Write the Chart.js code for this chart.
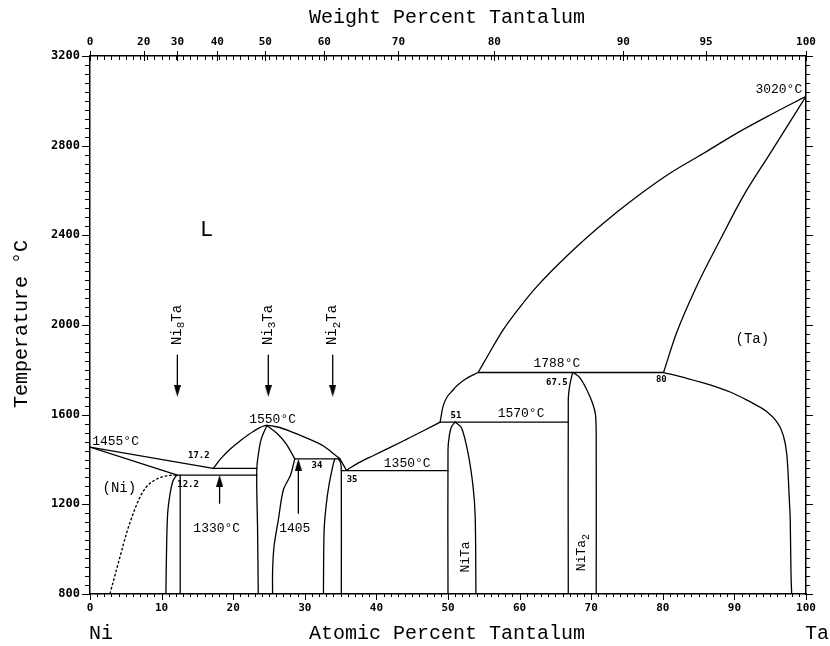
<!DOCTYPE html>
<html>
<head>
<meta charset="utf-8">
<script src="https://cdn.jsdelivr.net/npm/chart.js@4.4.1/dist/chart.umd.min.js"></script>
<style>
  html, body { margin: 0; padding: 0; background: #fff; }
  #wrap { width: 830px; height: 646px; }
</style>
</head>
<body>
<div id="wrap"><canvas id="chart"></canvas></div>
<script>
// tick labels
const atomicTicks = [0, 10, 20, 30, 40, 50, 60, 70, 80, 90, 100];
const weightTicks = [0, 20, 30, 40, 50, 60, 70, 80, 90, 95, 100];
const tempTicks = [800, 1200, 1600, 2000, 2400, 2800, 3200];

// phase boundaries, points are [at.% Ta, temperature °C]
const niLiquidus = [[0, 1455], [17.2, 1360]];
const niSolidus = [[0, 1455], [12.2, 1330]];
const niSolvus = [[2.8, 803], [4.2, 967], [5.1, 1071], [6.05, 1160], [7.0, 1234], [7.9, 1279], [9.1, 1309], [10.7, 1327], [12.2, 1331]];
const eutectic1360 = [[17.2, 1360], [23.3, 1360]];
const line1330 = [[12.2, 1330], [23.3, 1330]];
const ni8TaLeft = [[10.6, 800], [10.7, 1012], [10.85, 1160], [11.2, 1250], [11.6, 1305], [12.1, 1330]];
const ni8TaRight = [[12.6, 800], [12.6, 1330]];
const domeLiquidus = [[17.2, 1360], [18.3, 1405], [19.6, 1447], [21.0, 1484], [22.8, 1525], [24.7, 1552], [26.2, 1545], [27.9, 1527], [30.3, 1495], [32.6, 1460], [34.4, 1416], [34.9, 1403]];
const ni3TaLeft = [[23.5, 800], [23.4, 1100], [23.3, 1250], [23.3, 1360], [23.5, 1420], [23.9, 1490], [24.7, 1552]];
const ni3TaRightUpper = [[24.7, 1552], [26.1, 1517], [27.4, 1470], [28.6, 1403]];
const ni3TaRightLower = [[28.6, 1403], [28.0, 1330], [27.0, 1264], [26.3, 1130], [25.7, 1012], [25.5, 900], [25.5, 800]];
const peritectic1405 = [[28.6, 1403], [34.8, 1403]];
const ni2TaLeft = [[32.6, 800], [32.7, 1086], [33.0, 1200], [33.4, 1290], [34.0, 1383], [34.2, 1403]];
const ni2TaRight = [[34.7, 1403], [35.0, 1385], [35.1, 1350], [35.1, 800]];
const eutecticDip = [[34.9, 1403], [35.4, 1375], [35.8, 1352]];
const niTaLiquidus = [[35.8, 1352], [37.5, 1385], [39.6, 1418], [42.0, 1455], [44.2, 1490], [46.5, 1527], [48.9, 1567]];
const eutectic1350 = [[35.1, 1350], [50.0, 1350]];
const peritectic1570 = [[48.9, 1567], [66.8, 1567]];
const niTaLeft = [[50.0, 800], [50.0, 1443], [50.2, 1510], [50.5, 1547], [51.0, 1567]];
const niTaRight = [[51.0, 1567], [51.9, 1540], [52.8, 1428], [53.5, 1279], [53.8, 1145], [53.9, 800]];
const niTa2Liquidus = [[48.9, 1567], [49.3, 1636], [50.7, 1710], [52.6, 1762], [54.2, 1788]];
const taLiquidus = [[54.2, 1788], [55.0, 1832], [57.7, 1978], [60.1, 2082], [62.4, 2171], [67.0, 2320], [71.7, 2454], [76.4, 2573], [81.0, 2677], [85.7, 2766], [90.3, 2855], [95.0, 2937], [100, 3020]];
const peritectic1788 = [[54.2, 1788], [80.1, 1788]];
const niTa2Left = [[66.8, 800], [66.8, 1666], [67.0, 1730], [67.4, 1788]];
const niTa2Right = [[67.5, 1788], [68.4, 1765], [69.4, 1710], [70.2, 1650], [70.6, 1600], [70.7, 1500], [70.7, 800]];
const taSolidus = [[80.1, 1788], [81.9, 1963], [84.7, 2171], [88.0, 2379], [91.2, 2573], [95.0, 2766], [100, 3020]];
const taSolvus = [[80.1, 1788], [83.0, 1765], [86.6, 1733], [89.5, 1700], [91.7, 1666], [93.6, 1633], [94.5, 1614], [95.9, 1569], [96.8, 1510], [97.3, 1428], [97.5, 1339], [97.7, 1200], [97.8, 1130], [97.9, 900], [98.0, 800]];

// arrows: shaft from first to second point, head at the second
const arrowNi8Ta = [[12.2, 1866], [12.2, 1706]];
const arrowNi3Ta = [[24.9, 1866], [24.9, 1706]];
const arrowNi2Ta = [[33.9, 1866], [33.9, 1706]];
const arrow1330 = [[18.1, 1205], [18.1, 1305]];
const arrow1405 = [[29.1, 1160], [29.1, 1377]];

const straight = [niLiquidus, niSolidus, eutectic1360, line1330, ni8TaRight, peritectic1405,
    eutectic1350, peritectic1570, peritectic1788];
// curves that run left to right
const curvedAcross = [domeLiquidus, ni3TaRightUpper, eutecticDip, niTaLiquidus, niTa2Liquidus,
    taLiquidus, taSolidus, taSolvus];
// steep phase boundaries
const curvedSteep = [ni8TaLeft, ni3TaLeft, ni3TaRightLower, ni2TaLeft, ni2TaRight, niTaLeft,
    niTaRight, niTa2Left, niTa2Right];

// text labels in data coordinates
const labels = [
    { text: 'L', x: 16.3, y: 2424, font: '22px "Liberation Mono"' },
    { text: '(Ni)', x: 4.1, y: 1273, font: '14px "Liberation Mono"' },
    { text: '(Ta)', x: 92.5, y: 1938, font: '14px "Liberation Mono"' },
    { text: '1455°C', x: 0.3, y: 1478, align: 'left' },
    { text: '17.2', x: 15.2, y: 1416, small: true },
    { text: '12.2', x: 13.7, y: 1286, small: true },
    { text: '1330°C', x: 17.7, y: 1093 },
    { text: '1550°C', x: 25.5, y: 1578 },
    { text: '1405', x: 28.6, y: 1093 },
    { text: '34', x: 31.7, y: 1371, small: true },
    { text: '35', x: 36.6, y: 1309, small: true },
    { text: '1350°C', x: 44.3, y: 1382 },
    { text: '51', x: 51.1, y: 1596, small: true },
    { text: '1570°C', x: 60.2, y: 1605 },
    { text: '1788°C', x: 65.2, y: 1828 },
    { text: '67.5', x: 65.2, y: 1741, small: true },
    { text: '80', x: 79.8, y: 1755, small: true },
    { text: '3020°C', x: 96.2, y: 3050 }
];
const compounds = [
    { parts: [['Ni', 0], ['8', 1], ['Ta', 0]], x: 12.2, y: 2000 },
    { parts: [['Ni', 0], ['3', 1], ['Ta', 0]], x: 24.9, y: 2000 },
    { parts: [['Ni', 0], ['2', 1], ['Ta', 0]], x: 33.9, y: 2000 },
    { parts: [['NiTa', 0]], x: 52.5, y: 965, size: 13 },
    { parts: [['NiTa', 0], ['2', 1]], x: 68.7, y: 985, size: 13 }
];

const wtToAt = w => {
    const a = w / 180.948, b = (100 - w) / 58.693;
    return 100 * a / (a + b);
};

const toXY = pts => pts.map(p => ({ x: p[0], y: p[1] }));

function arrowHead(up) {
    const c = document.createElement('canvas');
    c.width = 7; c.height = 12;
    const g = c.getContext('2d');
    g.fillStyle = '#000';
    g.beginPath();
    if (up) { g.moveTo(3.5, 0); g.lineTo(7, 12); g.lineTo(0, 12); }
    else { g.moveTo(0, 0); g.lineTo(7, 0); g.lineTo(3.5, 12); }
    g.fill();
    return c;
}

const lineStyle = { borderColor: '#000', borderWidth: 1.3, pointRadius: 0, fill: false };
const datasets = [];
straight.forEach(s => datasets.push({ ...lineStyle, data: toXY(s), tension: 0 }));
curvedAcross.forEach(s => datasets.push({ ...lineStyle, data: toXY(s), cubicInterpolationMode: 'monotone' }));
curvedSteep.forEach(s => datasets.push({ ...lineStyle, data: toXY(s), tension: 0.3 }));
datasets.push({ ...lineStyle, data: toXY(niSolvus), cubicInterpolationMode: 'monotone', borderWidth: 1.4, borderDash: [1.5, 3] });
[[arrowNi8Ta, false], [arrowNi3Ta, false], [arrowNi2Ta, false], [arrow1330, true], [arrow1405, true]].forEach(([a, up]) => {
    datasets.push({ ...lineStyle, data: toXY(a), tension: 0 });
    datasets.push({ data: toXY([a[1]]), showLine: false, pointStyle: arrowHead(up), pointRadius: 6 });
});

const MONO = '"Liberation Mono", "DejaVu Sans Mono", monospace';
const tickFont = { family: '"DejaVu Sans Mono", monospace', weight: 'bold', size: 11 };

const decorations = {
    id: 'decorations',
    afterDraw(chart) {
        const ctx = chart.ctx;
        const xs = chart.scales.x, ys = chart.scales.y;
        const area = chart.chartArea;
        ctx.save();
        ctx.strokeStyle = '#000';
        ctx.fillStyle = '#000';
        ctx.lineWidth = 1;

        // minor and major tick marks
        ctx.beginPath();
        for (let a = 0; a <= 100; a++) {
            const px = Math.round(xs.getPixelForValue(a)) + 0.5;
            const len = a % 10 === 0 ? 6 : 3;
            ctx.moveTo(px, area.bottom); ctx.lineTo(px, area.bottom + len);
            ctx.moveTo(px, area.top); ctx.lineTo(px, area.top + 4);
        }
        weightTicks.forEach(w => {
            const px = Math.round(xs.getPixelForValue(wtToAt(w))) + 0.5;
            ctx.moveTo(px, area.top - 5); ctx.lineTo(px, area.top + 5);
        });
        for (let t = 800; t <= 3200; t += 40) {
            const py = Math.round(ys.getPixelForValue(t)) + 0.5;
            const major = (t - 800) % 400 === 0;
            ctx.moveTo(area.left, py); ctx.lineTo(area.left - (major ? 8 : 5), py);
            ctx.moveTo(area.right, py); ctx.lineTo(area.right + (major ? 7 : 4), py);
        }
        ctx.stroke();

        // axis titles
        ctx.font = '20px ' + MONO;
        ctx.textAlign = 'center';
        ctx.textBaseline = 'middle';
        ctx.fillText('Weight Percent Tantalum', 447, 18);
        ctx.fillText('Atomic Percent Tantalum', 447, 634);
        ctx.textAlign = 'left';
        ctx.fillText('Ni', 89, 634);
        ctx.fillText('Ta', 805, 634);
        ctx.save();
        ctx.translate(22, 324);
        ctx.rotate(-Math.PI / 2);
        ctx.textAlign = 'center';
        ctx.fillText('Temperature °C', 0, 0);
        ctx.restore();

        // labels inside the diagram
        labels.forEach(l => {
            ctx.font = l.font || (l.small ? 'bold 9px "DejaVu Sans Mono"' : '13px ' + MONO);
            ctx.textAlign = l.align || 'center';
            ctx.textBaseline = 'middle';
            ctx.fillText(l.text, xs.getPixelForValue(l.x), ys.getPixelForValue(l.y));
        });

        // rotated compound names with subscripts
        compounds.forEach(c => {
            const size = c.size || 14;
            ctx.save();
            ctx.translate(xs.getPixelForValue(c.x), ys.getPixelForValue(c.y));
            ctx.rotate(-Math.PI / 2);
            ctx.textBaseline = 'middle';
            ctx.textAlign = 'left';
            let total = 0;
            c.parts.forEach(([s, sub]) => {
                ctx.font = (sub ? size - 3 : size) + 'px ' + MONO;
                total += ctx.measureText(s).width;
            });
            let pos = -total / 2;
            c.parts.forEach(([s, sub]) => {
                ctx.font = (sub ? size - 3 : size) + 'px ' + MONO;
                ctx.fillText(s, pos, sub ? 4 : 0);
                pos += ctx.measureText(s).width;
            });
            ctx.restore();
        });
        ctx.restore();
    }
};

const noGrid = { display: false, drawTicks: false };
const axisLine = { display: true, color: '#000', width: 1.5 };

new Chart(document.getElementById('chart'), {
    type: 'line',
    data: { datasets },
    options: {
        responsive: true,
        maintainAspectRatio: false,
        animation: false,
        layout: { padding: 0 },
        plugins: { legend: { display: false }, tooltip: { enabled: false } },
        elements: { line: { borderCapStyle: 'round', borderJoinStyle: 'round' } },
        scales: {
            x: {
                type: 'linear', position: 'bottom', min: 0, max: 100, display: true,
                afterBuildTicks: s => { s.ticks = atomicTicks.map(v => ({ value: v })); },
                ticks: { color: '#000', font: tickFont, padding: 8, autoSkip: false, maxRotation: 0,
                    callback: v => String(v) },
                grid: noGrid,
                border: axisLine,
                afterFit: s => { s.height = 52; }
            },
            xTop: {
                type: 'linear', position: 'top', min: 0, max: 100, display: true,
                afterBuildTicks: s => { s.ticks = weightTicks.map(w => ({ value: wtToAt(w) })); },
                ticks: { color: '#000', font: tickFont, padding: 7, autoSkip: false, maxRotation: 0,
                    callback: (v, i) => String(weightTicks[i]) },
                grid: noGrid,
                border: axisLine,
                afterFit: s => { s.height = 56; }
            },
            y: {
                type: 'linear', position: 'left', min: 800, max: 3200, display: true,
                afterBuildTicks: s => { s.ticks = tempTicks.map(v => ({ value: v })); },
                ticks: { color: '#000', font: { ...tickFont, size: 12 }, padding: 10, autoSkip: false,
                    callback: v => String(v) },
                grid: noGrid,
                border: axisLine,
                afterFit: s => { s.width = 90; }
            },
            yRight: {
                type: 'linear', position: 'right', min: 800, max: 3200, display: true,
                ticks: { display: false },
                grid: noGrid,
                border: axisLine,
                afterFit: s => { s.width = 24; }
            }
        }
    },
    plugins: [decorations]
});
</script>
</body>
</html>
